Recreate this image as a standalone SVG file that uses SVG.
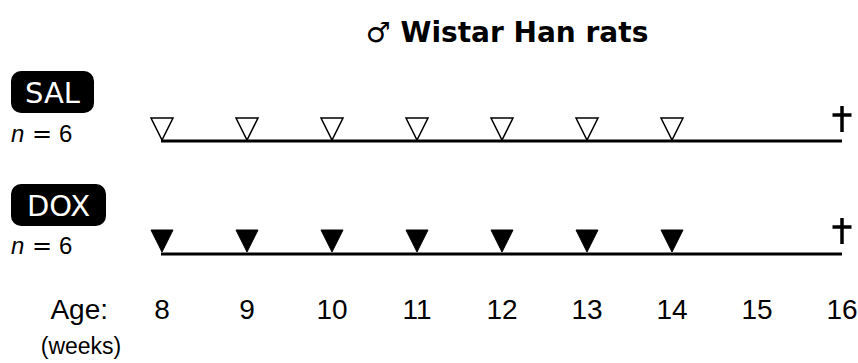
<svg xmlns="http://www.w3.org/2000/svg" width="858" height="363" viewBox="0 0 858 363">
<style>
.t{font-family:"Liberation Sans","DejaVu Sans",sans-serif;fill:#000}
.lbl{font-family:"DejaVu Sans",sans-serif;font-size:29px;fill:#fff;text-anchor:middle}
.n{font-size:24px}
.num{font-size:28px;text-anchor:middle}
.line{stroke:#000;stroke-width:3;fill:none}
.open{fill:#fff;stroke:#000;stroke-width:1.5}
.fill{fill:#000;stroke:#000;stroke-width:1}
.dag{stroke:#000;stroke-width:3.5;fill:none}
</style>
<defs>
<polygon id="tri" points="-11,0 11,0 0,22"/>
<path id="dagger" d="M0,0 V26 M-9.5,9 H9.5"/>
</defs>
<g id="title"><text x="507" y="42" font-family="DejaVu Sans, sans-serif" font-size="28" font-weight="bold" text-anchor="middle"><tspan font-weight="normal">♂</tspan> Wistar Han rats</text></g>
<g id="sal-label">
<rect x="11" y="71" width="83" height="42" rx="10" fill="#000"/>
<text class="lbl" x="52.5" y="103">SAL</text>
<text class="t n" y="142"><tspan x="11" font-style="italic">n</tspan><tspan x="32" font-family="DejaVu Sans, sans-serif">=</tspan><tspan x="59">6</tspan></text>
</g>
<g id="dox-label">
<rect x="11" y="184" width="95" height="42" rx="10" fill="#000"/>
<text class="lbl" x="58.5" y="216">DOX</text>
<text class="t n" y="254"><tspan x="11" font-style="italic">n</tspan><tspan x="32" font-family="DejaVu Sans, sans-serif">=</tspan><tspan x="59">6</tspan></text>
</g>
<g id="connectors">
<line class="line" x1="161" y1="141" x2="842" y2="141"/>
<line class="line" x1="161" y1="254" x2="842" y2="254"/>
</g>
<g id="sal-doses">
<use href="#tri" class="open" x="162" y="118"/>
<use href="#tri" class="open" x="247" y="118"/>
<use href="#tri" class="open" x="332" y="118"/>
<use href="#tri" class="open" x="417" y="118"/>
<use href="#tri" class="open" x="502" y="118"/>
<use href="#tri" class="open" x="587" y="118"/>
<use href="#tri" class="open" x="672" y="118"/>
<use href="#dagger" class="dag" x="842" y="106"/>
</g>
<g id="dox-doses">
<use href="#tri" class="fill" x="162" y="230"/>
<use href="#tri" class="fill" x="247" y="230"/>
<use href="#tri" class="fill" x="332" y="230"/>
<use href="#tri" class="fill" x="417" y="230"/>
<use href="#tri" class="fill" x="502" y="230"/>
<use href="#tri" class="fill" x="587" y="230"/>
<use href="#tri" class="fill" x="672" y="230"/>
<use href="#dagger" class="dag" x="842" y="218"/>
</g>
<g id="axis">
<text class="t" x="108" y="319" font-size="28" text-anchor="end">Age:</text>
<text class="t" x="81" y="354" font-size="23" text-anchor="middle">(weeks)</text>
<text class="t num" x="162" y="319">8</text>
<text class="t num" x="247" y="319">9</text>
<text class="t num" x="332" y="319">10</text>
<text class="t num" x="417" y="319">11</text>
<text class="t num" x="502" y="319">12</text>
<text class="t num" x="587" y="319">13</text>
<text class="t num" x="672" y="319">14</text>
<text class="t num" x="757" y="319">15</text>
<text class="t num" x="842" y="319">16</text>
</g>
</svg>
